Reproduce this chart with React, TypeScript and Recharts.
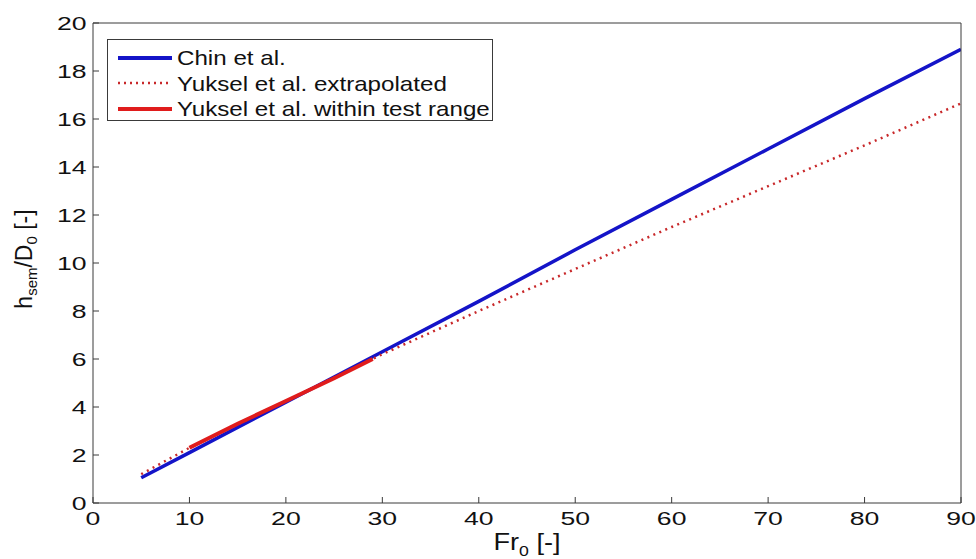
import { LineChart, Line, XAxis, YAxis } from "recharts";

// Chin et al. (straight line)
const chinFr = [5, 10, 20, 30, 40, 50, 60, 70, 80, 90];
const chinH = [1.05, 2.1, 4.2, 6.3, 8.4, 10.55, 12.65, 14.75, 16.85, 18.9];

// Yuksel et al. extrapolated (dotted)
const yukExtFr = [5, 10, 20, 30, 40, 50, 60, 70, 80, 90];
const yukExtH = [1.2, 2.3, 4.25, 6.2, 8.0, 9.75, 11.5, 13.2, 14.9, 16.65];

// Yuksel et al. within test range (solid)
const yukFr = [10, 15, 20, 25, 29];
const yukH = [2.3, 3.3, 4.25, 5.2, 6.0];

const xTicks = [0, 10, 20, 30, 40, 50, 60, 70, 80, 90];
const yTicks = [0, 2, 4, 6, 8, 10, 12, 14, 16, 18, 20];

const legendItems = [
  { label: "Chin et al.", color: "#1414c8", dash: undefined, width: 4 },
  { label: "Yuksel et al. extrapolated", color: "#c8282a", dash: "2 4", width: 2.5 },
  { label: "Yuksel et al. within test range", color: "#e01c1c", dash: undefined, width: 4 },
];

const toRows = (xs: number[], ys: number[]) => xs.map((fr, i) => ({ fr, h: ys[i] }));

const chinData = toRows(chinFr, chinH);
const yukExtData = toRows(yukExtFr, yukExtH);
const yukData = toRows(yukFr, yukH);

const FONT = "'Liberation Sans', Arial, sans-serif";
const AXIS = "#3a3a3a";

function XTick(props: any) {
  const { x, y, payload } = props;
  return (
    <text
      transform={`translate(${x},${y + 21.5}) scale(1.4,1)`}
      textAnchor="middle"
      fontFamily={FONT}
      fontSize={19}
      fill="#111"
    >
      {payload.value}
    </text>
  );
}

function YTick(props: any) {
  const { x, y, payload } = props;
  return (
    <text
      transform={`translate(${x - 6.5},${y + 6.8}) scale(1.4,1)`}
      textAnchor="end"
      fontFamily={FONT}
      fontSize={19}
      fill="#111"
    >
      {payload.value}
    </text>
  );
}

function YLabel() {
  return (
    <text
      transform="translate(31.5,259) rotate(-90)"
      textAnchor="middle"
      fontFamily={FONT}
      fontSize={23}
      fill="#111"
    >
      <tspan>h</tspan>
      <tspan fontSize={15} dy={5}>sem</tspan>
      <tspan dy={-5}>/D</tspan>
      <tspan fontSize={15} dy={5}>0</tspan>
      <tspan dy={-5}> [-]</tspan>
    </text>
  );
}

function XLabel() {
  return (
    <text
      transform="translate(527,550) scale(1.18,1)"
      textAnchor="middle"
      fontFamily={FONT}
      fontSize={23}
      fill="#111"
    >
      <tspan>Fr</tspan>
      <tspan fontSize={15} dy={6}>0</tspan>
      <tspan dy={-6}> [-]</tspan>
    </text>
  );
}

function LegendBox() {
  return (
    <div
      style={{
        position: "absolute",
        left: 107,
        top: 39,
        width: 386,
        height: 82,
        border: `1px solid ${AXIS}`,
        background: "#fff",
        boxSizing: "border-box",
      }}
    >
      {legendItems.map((item, i) => (
        <div
          key={item.label}
          style={{ position: "absolute", left: 9, top: 5 + i * 25.5, height: 25, display: "flex", alignItems: "center" }}
        >
          <svg width={56} height={10}>
            <line
              x1={1}
              x2={55}
              y1={5}
              y2={5}
              stroke={item.color}
              strokeWidth={item.width}
              strokeDasharray={item.dash}
            />
          </svg>
          <span
            style={{
              marginLeft: 4,
              fontFamily: FONT,
              fontSize: 21,
              color: "#111",
              whiteSpace: "nowrap",
              display: "inline-block",
              transform: "scaleX(1.15)",
              transformOrigin: "left center",
              lineHeight: "25px",
            }}
          >
            {item.label}
          </span>
        </div>
      ))}
    </div>
  );
}

export default function App() {
  return (
    <div style={{ position: "absolute", left: 0, top: 0, width: 976, height: 559, background: "#fff" }}>
      <LineChart width={976} height={559} margin={{ top: 22, right: 14, bottom: 16, left: 33 }}>
        <XAxis
          xAxisId="bottom"
          type="number"
          dataKey="fr"
          domain={[0, 90]}
          ticks={xTicks}
          allowDataOverflow
          height={40}
          stroke={AXIS}
          tickSize={-6}
          tickMargin={6}
          tick={<XTick />}
          label={<XLabel />}
        />
        <XAxis
          xAxisId="top"
          orientation="top"
          type="number"
          dataKey="fr"
          domain={[0, 90]}
          ticks={xTicks}
          allowDataOverflow
          height={1}
          stroke={AXIS}
          tickSize={-6}
          tick={false}
        />
        <YAxis
          yAxisId="left"
          type="number"
          domain={[0, 20]}
          ticks={yTicks}
          allowDataOverflow
          width={60}
          stroke={AXIS}
          tickSize={-6}
          tickMargin={6}
          tick={<YTick />}
          label={<YLabel />}
        />
        <YAxis
          yAxisId="right"
          orientation="right"
          type="number"
          domain={[0, 20]}
          ticks={yTicks}
          allowDataOverflow
          width={1}
          stroke={AXIS}
          tickSize={-6}
          tick={false}
        />
        {/* invisible series so the top/right (box) axes get drawn */}
        <Line
          xAxisId="top"
          yAxisId="right"
          data={chinData}
          dataKey="h"
          stroke="none"
          dot={false}
          activeDot={false}
          legendType="none"
          isAnimationActive={false}
        />
        <Line
          xAxisId="bottom"
          yAxisId="left"
          data={chinData}
          dataKey="h"
          stroke="#1414c8"
          strokeWidth={3.5}
          dot={false}
          isAnimationActive={false}
        />
        <Line
          xAxisId="bottom"
          yAxisId="left"
          data={yukExtData}
          dataKey="h"
          stroke="#c8282a"
          strokeWidth={2.5}
          strokeDasharray="2 4.5"
          dot={false}
          isAnimationActive={false}
        />
        <Line
          xAxisId="bottom"
          yAxisId="left"
          data={yukData}
          dataKey="h"
          stroke="#e01c1c"
          strokeWidth={4}
          dot={false}
          isAnimationActive={false}
        />
      </LineChart>
      <LegendBox />
    </div>
  );
}
